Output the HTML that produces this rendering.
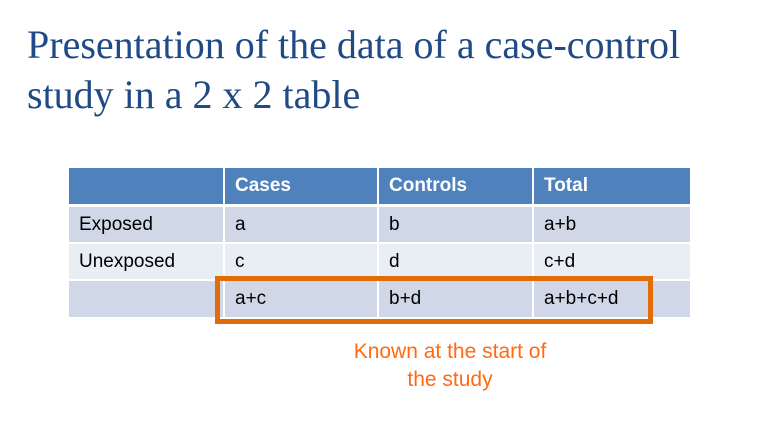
<!DOCTYPE html>
<html><head><meta charset="utf-8"><style>
body{margin:0;width:757px;height:427px;background:#fff;position:relative;overflow:hidden;font-family:"Liberation Sans",sans-serif}
.t{position:absolute;left:27px;font-family:"Liberation Serif",serif;color:#1f4a86;font-size:40px;line-height:46px;white-space:nowrap}
.c{position:absolute;box-sizing:border-box;padding-left:10px;font-size:19px;color:#000;display:flex;align-items:center}
.h{background:#4f81bd;color:#fff;font-weight:bold;height:36px;top:168px}
.r1{background:#d0d8e8;top:207px;height:35px}
.r2{background:#e9edf4;top:244px;height:35px}
.r3{background:#d0d8e8;top:281px;height:36px}
</style></head><body>
<div class="t" style="top:22px">Presentation of the data of a case-control</div>
<div class="t" style="top:72px">study in a 2 x 2 table</div>
<div>
<div class="c h" style="left:69px;width:154px"></div>
<div class="c h" style="left:225px;width:152px">Cases</div>
<div class="c h" style="left:379px;width:153px">Controls</div>
<div class="c h" style="left:534px;width:156px">Total</div>
<div class="c r1" style="left:69px;width:154px">Exposed</div>
<div class="c r1" style="left:225px;width:152px">a</div>
<div class="c r1" style="left:379px;width:153px">b</div>
<div class="c r1" style="left:534px;width:156px">a+b</div>
<div class="c r2" style="left:69px;width:154px">Unexposed</div>
<div class="c r2" style="left:225px;width:152px">c</div>
<div class="c r2" style="left:379px;width:153px">d</div>
<div class="c r2" style="left:534px;width:156px">c+d</div>
<div class="c r3" style="left:69px;width:154px"></div>
<div class="c r3" style="left:225px;width:152px">a+c</div>
<div class="c r3" style="left:379px;width:153px">b+d</div>
<div class="c r3" style="left:534px;width:156px">a+b+c+d</div>
</div>
<div style="position:absolute;left:215px;top:276px;width:438px;height:48px;box-sizing:border-box;border:5px solid #e36c0a"></div>
<div style="position:absolute;left:290px;top:338px;width:320px;text-align:center;color:#ff6a13;font-size:21px;line-height:28px">Known at the start of<br>the study</div>
</body></html>
